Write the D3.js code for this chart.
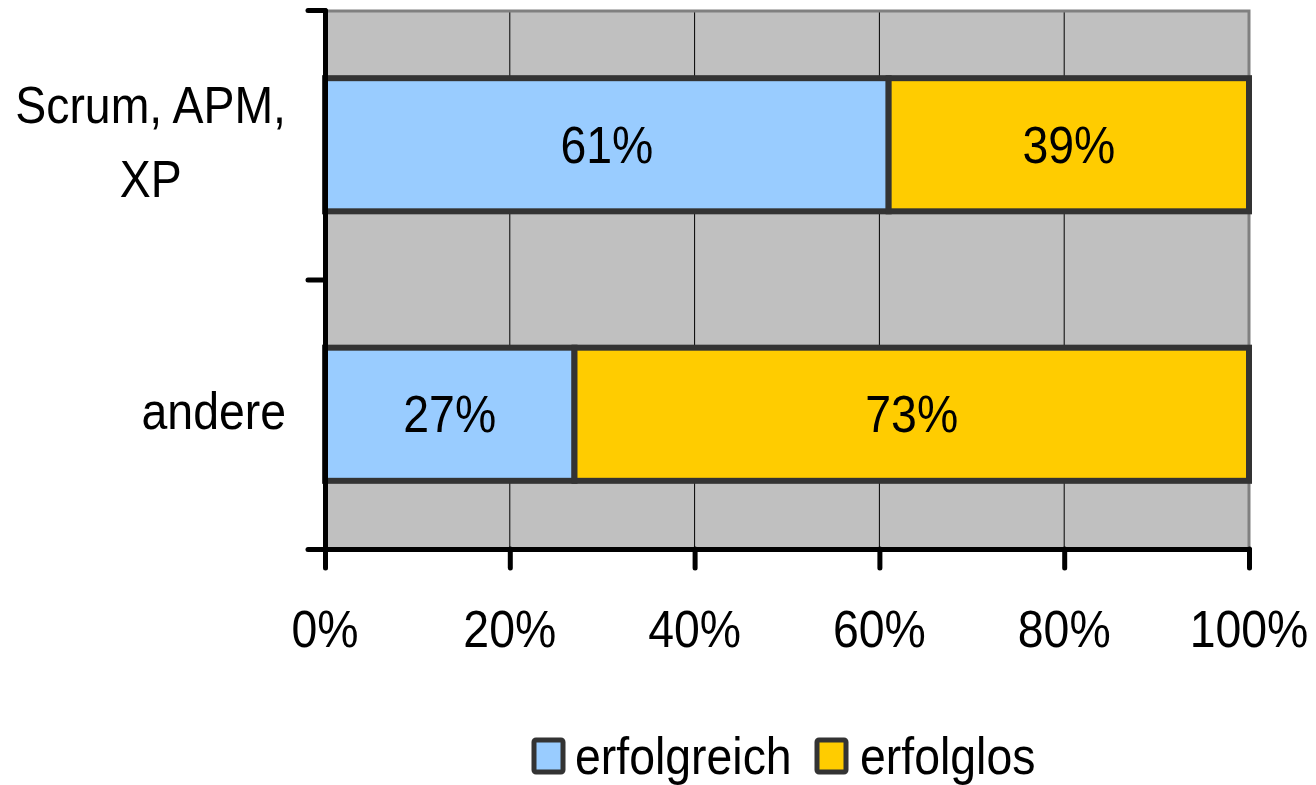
<!DOCTYPE html>
<html>
<head>
<meta charset="utf-8">
<script src="https://cdn.jsdelivr.net/npm/d3@7"></script>
<style>
  html, body { margin: 0; padding: 0; background: #fff; }
  svg { display: block; }
  text { font-family: "Liberation Sans", Arial, sans-serif; font-size: 51px; fill: #000; }
</style>
</head>
<body>
<svg id="chart" width="1316" height="785"></svg>
<script>
// Project outcome shares by method family
const categories = ["Scrum, APM, XP", "andere"];
const categoryLines = [["Scrum, APM,", "XP"], ["andere"]];
const seriesNames = ["erfolgreich", "erfolglos"];
const erfolgreich = [0.61, 0.27];
const erfolglos = [0.39, 0.73];
const tickValues = [0, 0.2, 0.4, 0.6, 0.8, 1.0];
const tickLabels = ["0%", "20%", "40%", "60%", "80%", "100%"];

const colors = { erfolgreich: "#99CCFF", erfolglos: "#FFCC00" };
const barStroke = "#333333";
const squeeze = 0.91; // narrow glyph rendering

const svg = d3.select("#chart");

const plot = { left: 325, right: 1249, top: 10, bottom: 549 };

const x = d3.scaleLinear().domain([0, 1]).range([plot.left, plot.right]);
const y = d3.scaleBand().domain(categories).range([plot.top, plot.bottom])
  .paddingInner(0.506).paddingOuter(0.253);
// boundaries between categories for the vertical axis ticks
const yEdge = d3.scaleLinear().domain([0, categories.length]).range([plot.top, plot.bottom]);

function label(parent, px, py, str, anchor) {
  const g = parent.append("g").attr("transform", `translate(${px},${py}) scale(${squeeze},1)`);
  return g.append("text").attr("text-anchor", anchor || "middle").text(str);
}

// plot background
svg.append("rect")
  .attr("x", plot.left).attr("y", plot.top)
  .attr("width", plot.right - plot.left).attr("height", plot.bottom - plot.top)
  .attr("fill", "#C0C0C0");

// vertical gridlines
svg.append("g").selectAll("line")
  .data(tickValues.slice(1, -1))
  .join("line")
  .attr("x1", d => x(d)).attr("x2", d => x(d))
  .attr("y1", plot.top).attr("y2", plot.bottom)
  .attr("stroke", "#000").attr("stroke-width", 1);

// grey frame on top and right
svg.append("path")
  .attr("d", `M${plot.left},${plot.top + 1} H${plot.right} V${plot.bottom}`)
  .attr("fill", "none").attr("stroke", "#808080").attr("stroke-width", 3);

// stacked bars
const rows = categories.map((c, i) => ({ cat: c, parts: [
  { key: "erfolgreich", x0: 0, x1: erfolgreich[i], v: erfolgreich[i] },
  { key: "erfolglos", x0: erfolgreich[i], x1: erfolgreich[i] + erfolglos[i], v: erfolglos[i] }
]}));

const barG = svg.append("g");
rows.forEach(r => {
  r.parts.forEach(p => {
    barG.append("rect")
      .attr("x", x(p.x0)).attr("y", y(r.cat))
      .attr("width", x(p.x1) - x(p.x0)).attr("height", y.bandwidth())
      .attr("fill", colors[p.key])
      .attr("stroke", barStroke).attr("stroke-width", 6);
  });
});
rows.forEach(r => {
  r.parts.forEach(p => {
    label(barG, (x(p.x0) + x(p.x1)) / 2, y(r.cat) + y.bandwidth() / 2 + 18,
      d3.format(".0%")(p.v));
  });
});

// axes
const xAxis = d3.axisBottom(x).tickValues(tickValues).tickFormat("").tickSize(19).tickSizeOuter(0);
const xg = svg.append("g").attr("transform", `translate(0,${plot.bottom})`).call(xAxis);
const yAxis = d3.axisLeft(yEdge).tickValues(d3.range(categories.length + 1)).tickFormat("").tickSize(17).tickSizeOuter(0);
const yg = svg.append("g").attr("transform", `translate(${plot.left},0)`).call(yAxis);
[xg, yg].forEach(g => {
  g.select(".domain").attr("stroke", "#000").attr("stroke-width", 5).attr("stroke-linecap", "round");
  g.selectAll(".tick line").attr("stroke", "#000").attr("stroke-width", 5).attr("stroke-linecap", "round");
});

// x tick labels
const tickG = svg.append("g");
tickValues.forEach((v, i) => label(tickG, x(v), 647, tickLabels[i]));

// category labels: lines centred in a block that is right-aligned to the axis
const catG = svg.append("g");
categories.forEach((c, i) => {
  const lines = categoryLines[i];
  const cy = y(c) + y.bandwidth() / 2;
  const temp = lines.map(t => label(catG, 0, 0, t));
  const widths = temp.map(t => t.node().getComputedTextLength() * squeeze);
  temp.forEach(t => t.node().parentNode.remove());
  const blockW = d3.max(widths);
  const cx = 286 - blockW / 2;
  lines.forEach((t, j) => {
    label(catG, cx, cy + 15 + (j - (lines.length - 1) / 2) * 74, t);
  });
});

// legend
const legendG = svg.append("g");
const legendItems = [
  { key: seriesNames[0], sx: 532, tx: 575 },
  { key: seriesNames[1], sx: 815, tx: 860 }
];
legendItems.forEach(it => {
  legendG.append("rect")
    .attr("x", it.sx + 2).attr("y", 740)
    .attr("width", 29).attr("height", 32)
    .attr("rx", 2)
    .attr("fill", colors[it.key]).attr("stroke", barStroke).attr("stroke-width", 5);
  label(legendG, it.tx, 774, it.key, "start");
});
</script>
</body>
</html>
